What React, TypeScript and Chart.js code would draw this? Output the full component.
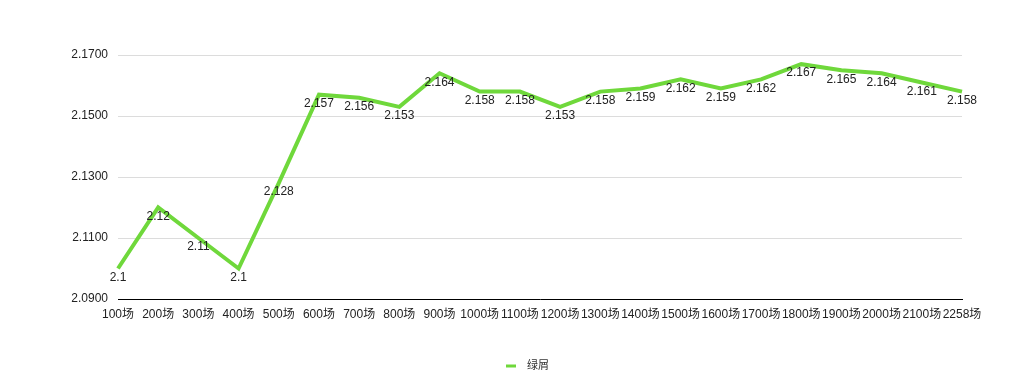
import React, { useEffect, useRef } from "react";
import { Chart, registerables } from "chart.js";

Chart.register(...registerables);

const categories = ["100场", "200场", "300场", "400场", "500场", "600场", "700场", "800场", "900场", "1000场", "1100场", "1200场", "1300场", "1400场", "1500场", "1600场", "1700场", "1800场", "1900场", "2000场", "2100场", "2258场"];
const seriesName = "绿屑";
const values = [2.1, 2.12, 2.11, 2.1, 2.128, 2.157, 2.156, 2.153, 2.164, 2.158, 2.158, 2.153, 2.158, 2.159, 2.162, 2.159, 2.162, 2.167, 2.165, 2.164, 2.161, 2.158];
const yMin = 2.09;
const yMax = 2.17;
const yStep = 0.02;

const FONT = "'Liberation Sans', Arial, 'Noto Sans CJK SC', sans-serif";
const GREEN = "#6fd83b";

const labelPlugin = {
  id: "pointLabels",
  afterDatasetsDraw(chart: any) {
    const ctx = chart.ctx;
    const meta = chart.getDatasetMeta(0);
    const ds = chart.data.datasets[0];
    ctx.save();
    ctx.font = `12px ${FONT}`;
    ctx.fillStyle = "#222";
    ctx.textAlign = "center";
    ctx.textBaseline = "middle";
    meta.data.forEach((el: any, i: number) => {
      ctx.fillText(String(ds.data[i]), el.x, el.y + 9);
    });
    ctx.restore();
  },
};

const legendPlugin = {
  id: "customLegend",
  afterDraw(chart: any) {
    const ctx = chart.ctx;
    const ds = chart.data.datasets[0];
    const y = 366;
    const x0 = 506;
    ctx.save();
    ctx.strokeStyle = ds.borderColor;
    ctx.lineWidth = 3;
    ctx.beginPath();
    ctx.moveTo(x0, y);
    ctx.lineTo(x0 + 10, y);
    ctx.stroke();
    ctx.font = `11px ${FONT}`;
    ctx.fillStyle = "#333";
    ctx.textAlign = "left";
    ctx.textBaseline = "middle";
    ctx.fillText(ds.label, x0 + 21, y);
    ctx.restore();
  },
};

export default function App() {
  const ref = useRef<HTMLCanvasElement | null>(null);
  useEffect(() => {
    if (!ref.current) return;
    const chart = new Chart(ref.current, {
      type: "line",
      data: {
        labels: categories,
        datasets: [
          {
            label: seriesName,
            data: values,
            borderColor: GREEN,
            backgroundColor: GREEN,
            borderWidth: 4,
            pointRadius: 0,
            pointHoverRadius: 0,
            tension: 0,
            fill: false,
          },
        ],
      },
      options: {
        animation: false,
        responsive: true,
        maintainAspectRatio: false,
        layout: { padding: { top: 55, right: 62, bottom: 0, left: 0 } },
        plugins: {
          tooltip: { enabled: false },
          legend: { display: false },
        },
        scales: {
          x: {
            offset: false,
            afterFit: (scale: any) => {
              scale.height = 80;
            },
            grid: { display: false, drawTicks: false },
            border: { display: true, color: "#000", width: 1 },
            ticks: {
              color: "#222",
              font: { size: 12, family: FONT },
              padding: 8,
              autoSkip: false,
              maxRotation: 0,
              minRotation: 0,
            },
          },
          y: {
            min: yMin,
            max: yMax,
            afterFit: (scale: any) => {
              scale.width = 118;
            },
            grid: { color: "#dcdcdc", drawTicks: false },
            border: { display: false },
            ticks: {
              stepSize: yStep,
              color: "#222",
              font: { size: 12, family: FONT },
              padding: 10,
              callback: (v: any) => Number(v).toFixed(4),
            },
          },
        },
      },
      plugins: [labelPlugin, legendPlugin],
    });
    return () => chart.destroy();
  }, []);
  return (
    <div style={{ position: "fixed", left: 0, top: 0, width: 1024, height: 379 }}>
      <canvas ref={ref} />
    </div>
  );
}
